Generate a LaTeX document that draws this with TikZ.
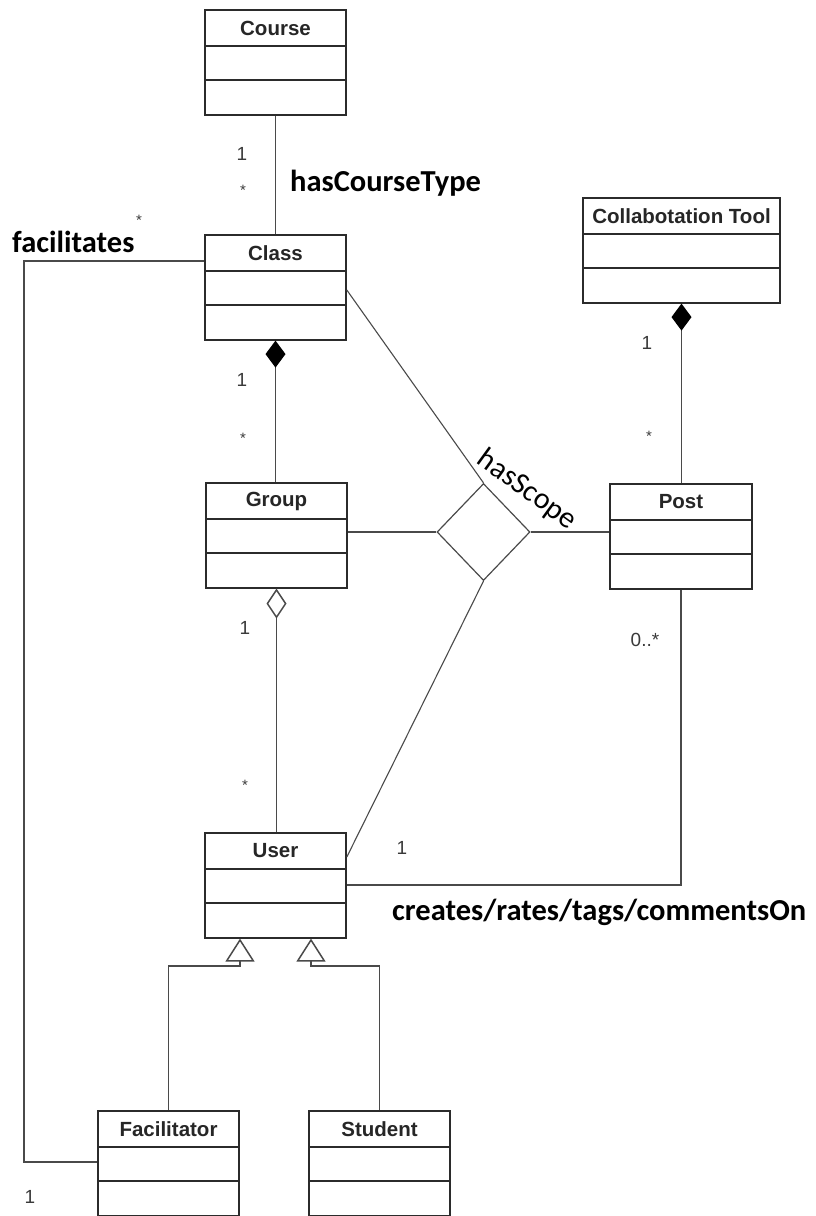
\documentclass[tikz,border=0pt]{standalone}
\usepackage{fontspec}
\usetikzlibrary{arrows.meta,shapes.geometric}
\newfontfamily\labelfont{Carlito}
\newfontfamily\classfont{Liberation Sans}
\definecolor{boxline}{HTML}{2B2B2B}
\definecolor{connline}{HTML}{4A4A4A}
\definecolor{multtext}{HTML}{3A3A3A}

\tikzset{
  classbox/.style={draw=boxline, line width=1.6pt, fill=white, inner sep=0pt, minimum height=105pt},
  classsep/.style={draw=boxline, line width=1.6pt},
  classtitle/.style={font=\classfont\bfseries\fontsize{20.5}{22}\selectfont, text=black!85, inner sep=0pt},
  conn/.style={draw=connline, line width=1.5pt},
  thinconn/.style={draw=connline, line width=1.1pt},
  mult/.style={font=\classfont\fontsize{19}{20}\selectfont, text=multtext, inner sep=0pt},
  star/.style={font=\classfont\fontsize{15}{16}\selectfont, text=multtext, inner sep=0pt},
  assoc/.style={font=\labelfont\bfseries\fontsize{30.5}{32}\selectfont, inner sep=0pt, anchor=west},
  compose/.style={{Diamond[length=27pt,width=20pt,color=black,fill=black]}-},
  aggregate/.style={{Diamond[open,length=30pt,width=20pt,fill=white]}-},
  generalize/.style={-{Triangle[open,length=23pt,width=29pt,fill=white]}},
}

% name, centre x, top y, width, title
\newcommand\umlclass[5]{%
  \node[classbox, minimum width=#4pt, anchor=north] (#1) at (#2,#3) {};
  \node[classtitle] (#1-title) at (#2,{#3+19}) {#5};
  \draw[classsep] ([yshift=-37pt]#1.north west) -- ([yshift=-37pt]#1.north east);
  \draw[classsep] ([yshift=-71pt]#1.north west) -- ([yshift=-71pt]#1.north east);
}

\begin{document}
\begin{tikzpicture}[x=1pt, y=-1pt]
  \useasboundingbox (0,0) rectangle (816,1216);
  \fill[white] (0,0) rectangle (816,1216);

  % classes
  \umlclass{course}{275.5}{9}{141}{Course}
  \umlclass{class}{275.5}{234}{141}{Class}
  \umlclass{group}{276.5}{482}{141}{Group}
  \umlclass{user}{275.5}{832}{141}{User}
  \umlclass{tool}{681.5}{197}{197}{Collabotation Tool}
  \umlclass{post}{681}{483}{142}{Post}
  \umlclass{fac}{168.5}{1110}{141}{Facilitator}
  \umlclass{student}{379.5}{1110}{141}{Student}

  % n-ary association
  \node[draw=connline, line width=1.2pt, diamond, fill=white, minimum width=93pt, minimum height=97pt, inner sep=0pt] (scope) at (483.5,532) {};

  % Course -- Class
  \draw[conn] (course.south) -- (class.north);
  % Class <>-- Group (composition)
  \draw[conn, compose] (class.south) -- (class.south |- group.north);
  % Group <>-- User (aggregation)
  \draw[conn, aggregate] (group.south) -- (group.south |- user.north);
  % Collaboration Tool <>-- Post (composition)
  \draw[conn, compose] (tool.south) -- (tool.south |- post.north);
  % Post -- User
  \draw[conn] (post.south) |- ([yshift=-53pt]user.north east);
  % Class -- Facilitator
  \coordinate (facbend) at (24,261);
  \draw[conn] ([yshift=-27pt]class.north west) -- (facbend) |- ([yshift=-52pt]fac.north west);

  % generalisations
  \coordinate (genL) at (240,966);
  \coordinate (genR) at (311,966);
  \draw[conn, generalize] (fac.north) |- (genL) -- (genL |- user.south);
  \draw[conn, generalize] (student.north) |- (genR) -- (genR |- user.south);

  % hasScope legs
  \draw[thinconn] (scope.west) -- (scope.west -| group.east);
  \draw[thinconn] (scope.east) -- (scope.east -| post.west);
  \draw[thinconn] ([yshift=-56pt]class.north east) -- (scope.north);
  \draw[thinconn] (scope.south) -- ([yshift=-25pt]user.north east);

  % multiplicities
  \node[mult] (mCourse) at (242,154) {1};
  \node[star] (mClassA) at (243,190) {*};
  \node[mult] (mClassB) at (242,380) {1};
  \node[star] (mGroupA) at (243,438) {*};
  \node[mult] (mGroupB) at (245,628) {1};
  \node[star] (mUserA) at (245,785) {*};
  \node[mult] (mTool) at (647,343) {1};
  \node[star] (mPostA) at (649,436) {*};
  \node[mult] (mPostB) at (645,640) {0..*};
  \node[mult] (mUserB) at (402,848) {1};
  \node[star] (mClassF) at (139,220) {*};
  \node[mult] (mFac) at (30,1197) {1};

  % association names
  \node[assoc] (lCourseType) at (290,183) {hasCourseType};
  \node[assoc] (lFacilitates) at (12,242) {facilitates};
  \node[assoc] (lCreates) at (392,912) {creates/rates/tags/commentsOn};
  \node[font=\labelfont\fontsize{30}{32}\selectfont, inner sep=0pt, rotate=-36] (lScope) at (527,490) {hasScope};
\end{tikzpicture}
\end{document}
